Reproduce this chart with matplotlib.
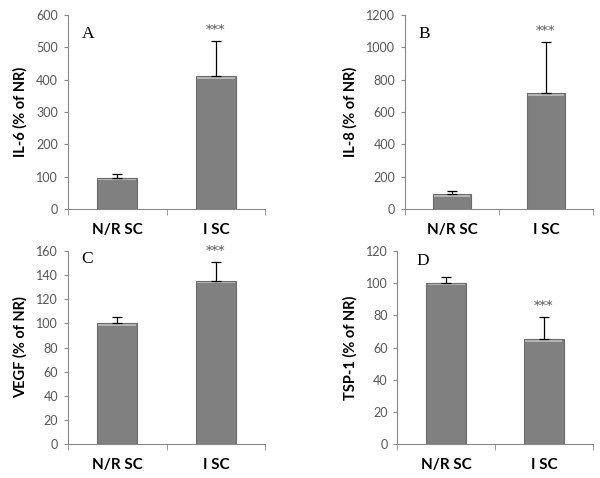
import numpy as np
import matplotlib
matplotlib.use("Agg")
import matplotlib.pyplot as plt

plt.rcParams['font.family'] = ['Lato', 'DejaVu Sans']

groups = ["N/R SC", "I SC"]

il6 = [95, 410]
il6_err = [12, 110]
il8 = [90, 715]
il8_err = [20, 315]
vegf = [100, 135]
vegf_err = [5, 16]
tsp1 = [100, 65]
tsp1_err = [4, 14]

panels = [
    # letter, letter pos, ylabel, values, errors, ymax, ystep, box
    ("A", (0.07, 0.90), "IL-6 (% of NR)", il6, il6_err, 600, 100, [0.113, 0.563, 0.329, 0.406]),
    ("B", (0.07, 0.90), "IL-8 (% of NR)", il8, il8_err, 1200, 200, [0.675, 0.563, 0.313, 0.406]),
    ("C", (0.07, 0.96), "VEGF (% of NR)", vegf, vegf_err, 160, 20, [0.113, 0.071, 0.329, 0.404]),
    ("D", (0.10, 0.95), "TSP-1 (% of NR)", tsp1, tsp1_err, 120, 20, [0.662, 0.071, 0.326, 0.404]),
]

fig = plt.figure(figsize=(6, 4.78), dpi=100)

for letter, lpos, ylab, vals, errs, ymax, ystep, box in panels:
    ax = fig.add_axes(box)
    x = np.arange(len(groups)) + 0.5
    ax.bar(x, vals, width=0.41, color="#808080", edgecolor="#6a6a6a", linewidth=0.8, zorder=2)
    # lighter top edge like the original shading
    ax.bar(x, [ymax * 0.01] * 2, bottom=np.array(vals) - ymax * 0.012, width=0.38,
           color="#b4b4b4", linewidth=0, zorder=3)
    ax.errorbar(x, vals, yerr=[[0, 0], errs], fmt="none", ecolor="black",
                elinewidth=0.9, capsize=3.5, capthick=0.9, zorder=4)
    for xi, v, e in zip(x[1:], vals[1:], errs[1:]):
        ax.annotate("***", (xi, v + e), xytext=(0, 3), textcoords="offset points",
                    ha="center", va="bottom", fontsize=9.5, color="#555555",
                    family="DejaVu Serif")
    ax.text(lpos[0], lpos[1], letter, transform=ax.transAxes, fontsize=12.5,
            family="Liberation Serif", ha="left", va="center", clip_on=False)

    ax.set_xlim(0, 2)
    ax.set_ylim(0, ymax)
    ax.set_yticks(np.arange(0, ymax + 1, ystep))
    ax.set_xticks(x)
    ax.set_xticklabels(groups, fontsize=11, fontweight="bold")
    ax.set_xticks([0, 1, 2], minor=True)
    ax.tick_params(axis="x", which="major", length=0, pad=10)
    ax.tick_params(axis="x", which="minor", length=4, direction="out", color="#888888")
    ax.tick_params(axis="y", length=3, direction="out", color="#888888",
                   labelsize=9, labelcolor="#555555", pad=4)
    ax.set_ylabel(ylab, fontsize=10.5, fontweight="bold", labelpad=6)
    for s in ["top", "right"]:
        ax.spines[s].set_visible(False)
    for s in ["left", "bottom"]:
        ax.spines[s].set_color("#888888")
        ax.spines[s].set_linewidth(0.8)

fig.savefig("out.png", dpi=100)
